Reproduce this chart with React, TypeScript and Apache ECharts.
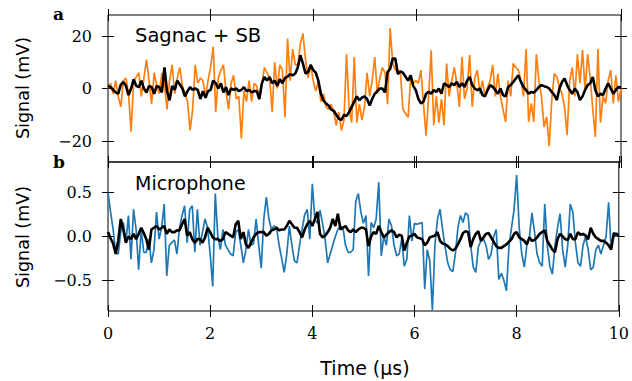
import React, { useEffect, useRef } from "react";
import * as echarts from "echarts";

const STEP = 0.05; // µs between samples
const X_TICKS = [0, 2, 4, 6, 8, 10];
const TOP_TICKS = [-20, 0, 20];
const BOT_TICKS = [-0.5, 0, 0.5];

// Panel a: Sagnac + SB (mV)
const sagnacRaw = [
  0, 2, -2, 3, -3, -7, 3, 4, -2, -16.5, 3, 4.4, 6, -3, 4, 11, 3, -6, 6, 1,
  -2, 6, 2, -8, 3, 9, -2, 4, 8, 1, -2, -5, -16, -8, 9, 2, 4, 3, -3, 3,
  8, 16, -9, 4, 7, 9, -1, -8, 2, 5, -4, -3, -19, -1, -5, 3, -5, 2, 1, -4,
  2, 8, 6, 4, -9, 10, 0, 9, 7, -11, 19, 3, 15, 9, 9, 17, 21, 11, 4, 9,
  3, -1, 3, -5, -2, -7, -8, -6, -9, -14, -9, -16, -12, 13, -8, -13, 12, -13, -6, -12,
  -7, 6, -3, 3, 12, -2, 4, 8, 6, -6, 23, 9.5, 7, 7, 6, -8, -9.5, -11, 4, 2,
  3, 2, 7, -6, -18, -3, 14.6, -14, -3, -13, -4, -14, 9.5, -3, 3, 8, 2, -7, 12, -4,
  0, 12.7, -7, 4, 7, -2, 3, -3, 0.6, 3, 9, -3, 5.7, -3, -8, -12.7, 3, -3, 9.5, 8,
  7, 3, -3, 15, -12.7, -5.7, -12.7, 13, 3, -3, -14.6, -10.8, -22, -4.4, 5.7, 4.4, 0.6, -2, -7, -17.8,
  3, 8, -3, 13, 2, 14.6, -0.6, 13, 4, -8, -18.4, 15, -13, -3, -5.7, 3, 7, -5.7, 5, -5, 0,
];
const sagnacAvg = [
  1, 0.5, -0.5, -1.5, -2, 1.5, 2.5, 1, -2.5, 0, 3.5, 1, 0.5, 3, 0, -1.5, 1, 0.5, -2, 1,
  0.5, -1.5, 8, -1, -4.5, 1, -0.5, 3, 1.5, 0, -3, -1, 0.5, -0.5, 0, -0.5, -4, -1, -3.5, -1,
  -0.5, 3, 2, 0, 2, -1.5, 0.5, -2.5, 0, -0.5, 0, -1, -0.5, 0.5, -1, -0.5, -1.5, -1, -1, -4,
  2, 4.4, 3, 4.4, 2, 3, 1, 3.5, 2, 4, 4.5, 5.5, 5, 5.7, 8, 12.7, 9.5, 5.7, 6.3, 9,
  7, 6, 3, -2, -4.5, -5.7, -6.5, -8, -8.5, -10, -11.5, -12, -10, -10.5, -9, -7, -5, -3, -4.5, -3.5,
  -3, -4, -6.5, -4, -2, -1, 0, 0, -1.5, 6.3, 7.5, 11.4, 11.4, 5.5, 6.5, 6, 4.5, 3, 5, 1,
  -0.6, -4, -5.7, -5, -2, -1.3, -2, -0.6, -1.3, 0, -2, 2, 1.3, 0.6, 2, 1.3, 2.5, 0.6, 2, 0.6,
  3, 4.4, 1.3, 0, -0.6, 0, -2.5, -3, -0.6, 1.3, 0.6, -0.6, -2, 0, -2.5, -3, 0.6, 1.3, 2.5, 3.8,
  5, 2.5, 0.6, -0.6, -2, -1.3, -1.6, -0.6, 0.6, 1.3, 0.9, 0.6, 0, -1.3, -2.5, -4.4, 0, 2.5, 3.8, 1.3,
  -0.6, -2, 0, -1.3, -4.4, -3, -0.6, 1.3, 2, 4.4, -0.6, -3, -2, -2.5, 0, 2, 0, -2, -0.6, 0.6, 0.4,
];

// Panel b: Microphone (mV)
const micRaw = [
  0.5, 0.28, 0.08, -0.18, -0.2, 0.05, 0.16, -0.07, 0.24, -0.26, 0.31, 0.08, -0.38, 0.08, -0.18, -0.18, -0.03, -0.3, -0.15, 0.28,
  -0.03, 0.1, 0.37, -0.45, -0.1, -0.07, -0.04, -0.2, 0.1, 0.24, 0.35, -0.07, 0.31, 0.35, -0.18, 0.31, -0.1, 0.05, 0.2, 0.1,
  -0.2, -0.57, 0.49, 0.0, -0.15, 0.08, -0.1, -0.15, -0.2, -0.22, 0.05, 0.08, -0.1, -0.3, -0.15, 0.08, -0.1, -0.08, 0.2, -0.1,
  -0.36, 0.2, 0.45, 0.2, 0.08, 0.12, 0.1, -0.1, -0.25, -0.41, -0.2, 0.12, -0.1, -0.28, -0.3, -0.1, 0.08, 0.25, 0.31, -0.03,
  0.6, 0.2, 0.15, 0.3, 0.15, -0.03, -0.3, -0.2, -0.1, 0.0, 0.08, 0.12, 0.1, -0.1, -0.18, -0.18, -0.15, 0.4, 0.49, 0.28,
  0.15, 0.24, -0.45, 0.16, 0.1, 0.2, 0.62, -0.22, 0.0, -0.1, 0.2, 0.12, -0.1, -0.22, -0.2, -0.03, -0.34, -0.26, 0.24, -0.05,
  0.15, 0.14, 0.15, 0.16, -0.6, -0.15, -0.28, -0.84, -0.1, 0.2, 0.31, 0.08, -0.12, -0.3, -0.38, -0.4, -0.2, 0.1, 0.24, 0.16,
  0.27, 0.24, -0.1, -0.35, -0.41, -0.12, -0.05, -0.03, -0.1, -0.26, -0.2, 0.0, 0.08, -0.49, -0.42, -0.5, -0.62, -0.1, 0.1, 0.31,
  0.7, 0.1, -0.2, -0.35, -0.1, 0.0, 0.27, 0.05, -0.2, -0.3, -0.34, 0.37, -0.1, -0.34, -0.43, -0.1, 0.1, 0.26, -0.15, -0.35,
  -0.1, 0.37, 0.28, -0.07, -0.3, -0.34, -0.1, 0.0, -0.15, -0.38, -0.35, -0.15, -0.1, -0.2, -0.1, 0.0, 0.39, -0.15, 0.05, 0.0, 0.05,
];
const micAvg = [
  0.05, -0.02, -0.08, -0.2, -0.05, 0.2, 0.08, -0.07, 0.0, -0.03, 0.03, -0.03, 0.03, 0.1, 0.04, -0.03, -0.15, 0.08, 0.1, 0.12,
  0.08, 0.1, 0.12, 0.03, 0.08, 0.05, 0.05, 0.07, 0.07, 0.14, 0.2, 0.01, 0.05, -0.03, -0.07, -0.03, -0.03, -0.07, -0.01, 0.1,
  0.05, -0.01, -0.03, -0.03, -0.05, -0.03, 0.05, 0.03, 0.01, -0.01, 0.14, 0.18, -0.03, 0.05, -0.09, -0.13, -0.07, -0.01, 0.03, 0.05,
  0.05, 0.05, 0.01, 0.03, 0.07, 0.08, 0.1, 0.07, 0.08, 0.08, 0.12, 0.18, 0.14, 0.1, 0.1, 0.05, -0.01, 0.08, 0.14, 0.18,
  0.12, 0.2, 0.28, 0.03, -0.01, 0.01, 0.05, 0.1, 0.2, 0.12, 0.26, 0.08, 0.1, 0.12, 0.07, 0.05, 0.08, 0.05, 0.08, 0.1,
  0.1, 0.08, -0.11, 0.0, 0.05, 0.03, 0.12, 0.05, -0.01, 0.02, 0.05, 0.07, 0.05, -0.01, 0.02, 0.01, -0.16, -0.07, 0.0, 0.01,
  0.03, -0.01, -0.02, -0.03, -0.1, -0.07, -0.01, 0.0, 0.01, 0.05, -0.05, -0.08, -0.09, -0.11, -0.14, -0.16, -0.14, -0.09, -0.03, 0.04,
  0.06, 0.05, -0.12, -0.03, 0.03, 0.06, -0.05, -0.01, 0.03, 0.04, -0.01, -0.06, -0.11, -0.13, -0.13, -0.11, -0.09, -0.06, -0.03, 0.03,
  0.05, -0.01, -0.03, -0.05, -0.09, -0.01, -0.05, -0.04, -0.01, 0.03, 0.05, 0.07, -0.05, -0.1, -0.15, -0.18, -0.03, 0.03, 0.0, -0.03,
  -0.04, 0.03, -0.03, -0.03, 0.05, 0.02, 0.03, 0.01, -0.03, 0.1, 0.03, -0.01, -0.03, -0.05, -0.05, -0.07, -0.1, -0.15, 0.03, 0.03, 0.01,
];

const toPairs = (arr: number[]) => arr.map((v, i) => [Number((i * STEP).toFixed(2)), v]);
const minus = (s: string) => s.replace("-", "\u2212");

const SERIF = "DejaVu Serif";
const SANS = "DejaVu Sans";

function xAxis(grid: number, pos: "top" | "bottom", labels: boolean) {
  return {
    type: "value",
    gridIndex: grid,
    position: pos,
    min: 0,
    max: 10,
    interval: 2,
    offset: -6,
    axisLine: { show: false, onZero: false },
    axisTick: { show: true, inside: false, length: 12, lineStyle: { color: "#000", width: 1 } },
    axisLabel: {
      show: labels,
      customValues: X_TICKS,
      margin: 20,
      color: "#000",
      fontFamily: SERIF,
      fontSize: 16,
      formatter: (v: number) => minus(String(v)),
    },
    splitLine: { show: false },
  };
}

function yAxis(grid: number, pos: "left" | "right", labels: boolean, min: number, max: number, ticks: number[], dec: number) {
  return {
    type: "value",
    gridIndex: grid,
    position: pos,
    min,
    max,
    offset: -6,
    axisLine: { show: false, onZero: false },
    axisTick: { show: true, inside: false, length: 12, customValues: ticks, lineStyle: { color: "#000", width: 1 } },
    axisLabel: {
      show: labels,
      customValues: ticks,
      margin: 22,
      color: "#000",
      fontFamily: SERIF,
      fontSize: 16,
      formatter: (v: number) => minus(v.toFixed(dec)),
    },
    splitLine: { show: false },
  };
}

export default function App() {
  const ref = useRef<HTMLDivElement>(null);
  useEffect(() => {
    if (!ref.current) return;
    const chart = echarts.init(ref.current, null, { renderer: "svg" });
    const txt = (text: string, x: number, y: number, font: string, size: number, weight = "normal", rot = 0, align = "left") => ({
      type: "text",
      x,
      y,
      rotation: rot,
      style: {
        text,
        fill: "#000",
        fontFamily: font,
        fontSize: size,
        fontWeight: weight,
        align,
        verticalAlign: "middle",
        textAlign: align,
        textVerticalAlign: "middle",
      },
    });
    chart.setOption({
      animation: false,
      backgroundColor: "#fff",
      grid: [
        { left: 108, top: 15, width: 513, height: 147, show: true, borderColor: "#000", borderWidth: 1, backgroundColor: "transparent" },
        { left: 108, top: 162, width: 513, height: 149, show: true, borderColor: "#000", borderWidth: 1, backgroundColor: "transparent" },
      ],
      xAxis: [xAxis(0, "bottom", false), xAxis(0, "top", false), xAxis(1, "bottom", true), xAxis(1, "top", false)],
      yAxis: [
        yAxis(0, "left", true, -28, 28, TOP_TICKS, 0),
        yAxis(0, "right", false, -28, 28, TOP_TICKS, 0),
        yAxis(1, "left", true, -0.85, 0.85, BOT_TICKS, 1),
        yAxis(1, "right", false, -0.85, 0.85, BOT_TICKS, 1),
      ],
      series: [
        { type: "line", xAxisIndex: 0, yAxisIndex: 0, data: toPairs(sagnacRaw), showSymbol: false, lineStyle: { color: "#ff7f0e", width: 1.7 }, z: 2 },
        { type: "line", xAxisIndex: 0, yAxisIndex: 0, data: toPairs(sagnacAvg), showSymbol: false, lineStyle: { color: "#000", width: 2.6 }, z: 3 },
        { type: "line", xAxisIndex: 2, yAxisIndex: 2, data: toPairs(micRaw), showSymbol: false, lineStyle: { color: "#1f77b4", width: 1.7 }, z: 2 },
        { type: "line", xAxisIndex: 2, yAxisIndex: 2, data: toPairs(micAvg), showSymbol: false, lineStyle: { color: "#000", width: 2.6 }, z: 3 },
      ],
      graphic: [
        txt("a", 53, 14, SERIF, 17, "bold"),
        txt("b", 53, 162, SERIF, 17, "bold"),
        txt("Sagnac + SB", 135, 35, SANS, 19.5),
        txt("Microphone", 135, 183, SANS, 19),
        txt("Time (\u03bcs)", 365, 368, SANS, 19, "normal", 0, "center"),
        txt("Signal (mV)", 23, 88, SANS, 17.5, "normal", Math.PI / 2, "center"),
        txt("Signal (mV)", 23, 237, SANS, 17.5, "normal", Math.PI / 2, "center"),
      ],
    });
    return () => chart.dispose();
  }, []);
  return <div ref={ref} style={{ position: "fixed", left: 0, top: 0, width: 632, height: 381 }} />;
}
